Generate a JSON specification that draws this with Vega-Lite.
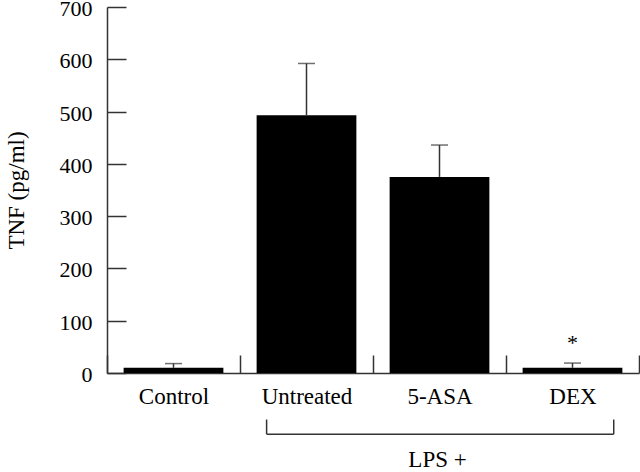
{
  "$schema": "https://vega.github.io/schema/vega-lite/v6.json",
  "width": 532,
  "height": 366,
  "autosize": "none",
  "padding": {"left": 107, "top": 7, "right": 1, "bottom": 99},
  "background": "white",
  "config": {
    "view": {"stroke": null},
    "font": "Liberation Serif",
    "axis": {"labelFont": "Liberation Serif", "titleFont": "Liberation Serif", "labelColor": "black", "titleColor": "black", "domainColor": "#333", "tickColor": "#333", "grid": false}
  },
  "datasets": {
    "bars": [
      {"group": "Control", "tnf": 10, "upper": 18},
      {"group": "Untreated", "tnf": 493, "upper": 592},
      {"group": "5-ASA", "tnf": 375, "upper": 436},
      {"group": "DEX", "tnf": 10, "upper": 19}
    ],
    "marks": [
      {"group": "DEX", "upper": 19, "sig": "*"}
    ],
    "bracket": [
      {"from": "Untreated", "to": "DEX", "level": -117, "top": -89}
    ]
  },
  "encoding": {
    "x": {
      "field": "group", "type": "nominal", "sort": null,
      "scale": {"domain": ["Control", "Untreated", "5-ASA", "DEX"], "paddingInner": 0, "paddingOuter": 0},
      "axis": {"title": "LPS +", "labelAngle": 0, "labelFontSize": 23, "titleFontSize": 23, "titleFontWeight": "normal", "tickBand": "extent", "tickExtra": true, "tickSize": -18, "labelPadding": 30, "titleX": 330, "titleY": 93, "titleBaseline": "alphabetic", "domainWidth": 1.5, "tickWidth": 1.5}
    }
  },
  "layer": [
    {
      "data": {"name": "bars"},
      "mark": {"type": "bar", "color": "black", "width": {"band": 0.75}},
      "encoding": {
        "y": {"field": "tnf", "type": "quantitative",
          "scale": {"domain": [0, 700], "nice": false},
          "axis": {"title": "TNF (pg/ml)", "values": [0, 50, 100, 150, 200, 250, 300, 350, 400, 450, 500, 550, 600, 650, 700],
            "labelExpr": "datum.value % 100 === 0 ? datum.label : ''",
            "tickSize": {"condition": {"test": "datum.value % 100 === 0", "value": -19}, "value": -10},
            "labelPadding": 34, "labelOffset": 1.5, "labelFontSize": 22, "titleFontSize": 23, "titleFontWeight": "normal", "titlePadding": 31, "domainWidth": 1.5, "tickWidth": 1.5}
        }
      }
    },
    {
      "data": {"name": "bars"},
      "mark": {"type": "rule", "color": "#333", "strokeWidth": 1.5},
      "encoding": {
        "y": {"field": "tnf", "type": "quantitative"},
        "y2": {"field": "upper"}
      }
    },
    {
      "data": {"name": "bars"},
      "mark": {"type": "tick", "color": "#333", "size": 17, "thickness": 1.5},
      "encoding": {
        "y": {"field": "upper", "type": "quantitative"}
      }
    },
    {
      "data": {"name": "marks"},
      "mark": {"type": "text", "fontSize": 22, "baseline": "alphabetic", "dy": -13, "color": "black"},
      "encoding": {
        "y": {"field": "upper", "type": "quantitative"},
        "text": {"field": "sig"}
      }
    },
    {
      "data": {"name": "bracket"},
      "mark": {"type": "rule", "color": "#333", "strokeWidth": 1.5},
      "encoding": {
        "x": {"field": "from", "type": "nominal", "bandPosition": 0.2},
        "x2": {"field": "to", "bandPosition": 0.81},
        "y": {"field": "level", "type": "quantitative"}
      }
    },
    {
      "data": {"name": "bracket"},
      "mark": {"type": "rule", "color": "#333", "strokeWidth": 1.5},
      "encoding": {
        "x": {"field": "from", "type": "nominal", "bandPosition": 0.2},
        "y": {"field": "level", "type": "quantitative"},
        "y2": {"field": "top"}
      }
    },
    {
      "data": {"name": "bracket"},
      "mark": {"type": "rule", "color": "#333", "strokeWidth": 1.5},
      "encoding": {
        "x": {"field": "to", "type": "nominal", "bandPosition": 0.81},
        "y": {"field": "level", "type": "quantitative"},
        "y2": {"field": "top"}
      }
    }
  ]
}
